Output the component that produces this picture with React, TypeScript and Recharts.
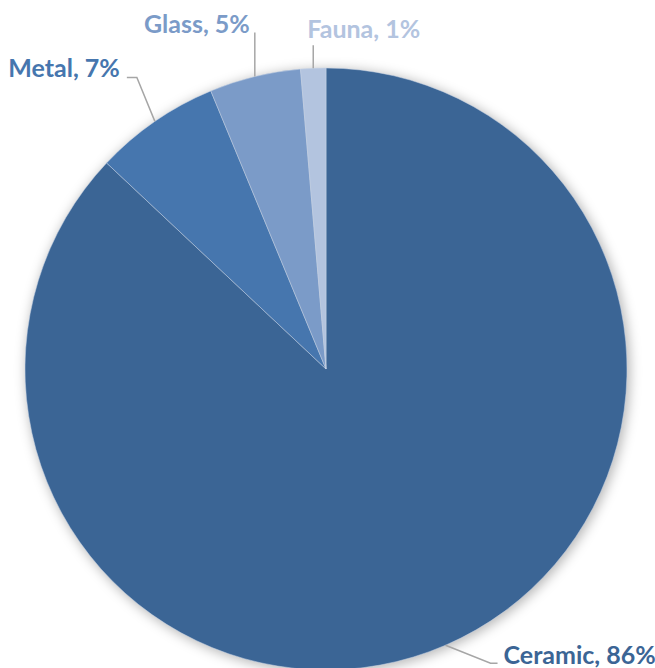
import { PieChart, Pie, Cell } from 'recharts'

// share of finds by material
const materials = ['Ceramic', 'Metal', 'Glass', 'Fauna']
const shares = [87.0, 6.75, 4.9, 1.35]
const shareLabels = ['86%', '7%', '5%', '1%']
const colors = ['#3b6595', '#4676ae', '#7b9bc8', '#b3c4df']

const data = materials.map((name, i) => ({ name, value: shares[i], label: shareLabels[i] }))
const shadowData = [{ name: 'all', value: 1 }]

const RAD = Math.PI / 180

// leader line layout per label, relative to the point on the rim
const leaders: Record<string, { elbow: [number, number]; tail: number; textDx: number; textDy: number; anchor: 'start' | 'end' }> = {
  Ceramic: { elbow: [45, 18], tail: 7, textDx: 6, textDy: 1, anchor: 'start' },
  Metal: { elbow: [-18, -44], tail: -10, textDx: -7, textDy: 0, anchor: 'end' },
  Glass: { elbow: [0, -44], tail: 0, textDx: -5, textDy: 0, anchor: 'end' },
  Fauna: { elbow: [0, -23], tail: 0, textDx: -6, textDy: -7, anchor: 'start' },
}

function renderLabel(props: any) {
  const { cx, cy, midAngle, outerRadius, index } = props
  const item = data[index]
  const cfg = leaders[item.name]
  const x0 = cx + outerRadius * Math.cos(-midAngle * RAD)
  const y0 = cy + outerRadius * Math.sin(-midAngle * RAD)
  const x1 = x0 + cfg.elbow[0]
  const y1 = y0 + cfg.elbow[1]
  const x2 = x1 + cfg.tail
  return (
    <g key={`lbl-${index}`}>
      <polyline points={`${x0},${y0} ${x1},${y1} ${x2},${y1}`} fill="none" stroke="#a6a6a6" strokeWidth={1.5} />
      <text
        x={x2 + cfg.textDx}
        y={y1 + cfg.textDy}
        textAnchor={cfg.anchor}
        fill={colors[index]}
        fontFamily="Lato, sans-serif"
        fontWeight="bold"
        fontSize={25}
      >
        {`${item.name}, ${item.label}`}
      </text>
    </g>
  )
}

export default function App() {
  return (
    <div style={{ position: 'absolute', left: 0, top: 0, background: '#fff' }}>
      <PieChart width={655} height={668} margin={{ top: 0, right: 0, bottom: 0, left: 0 }}>
        <Pie
          data={shadowData}
          dataKey="value"
          cx={328}
          cy={371}
          outerRadius={302}
          startAngle={90}
          endAngle={-270}
          stroke="none"
          isAnimationActive={false}
        >
          <Cell fill="#000" fillOpacity={0.28} style={{ filter: 'blur(6px)' }} />
        </Pie>
        <Pie
          data={data}
          dataKey="value"
          nameKey="name"
          cx={326}
          cy={369}
          outerRadius={301}
          startAngle={90}
          endAngle={-270}
          stroke="#c8d4e6"
          strokeWidth={0.5}
          label={renderLabel}
          labelLine={false}
          isAnimationActive={false}
        >
          {data.map((entry, index) => (
            <Cell key={`cell-${index}`} fill={colors[index]} />
          ))}
        </Pie>
      </PieChart>
    </div>
  )
}
